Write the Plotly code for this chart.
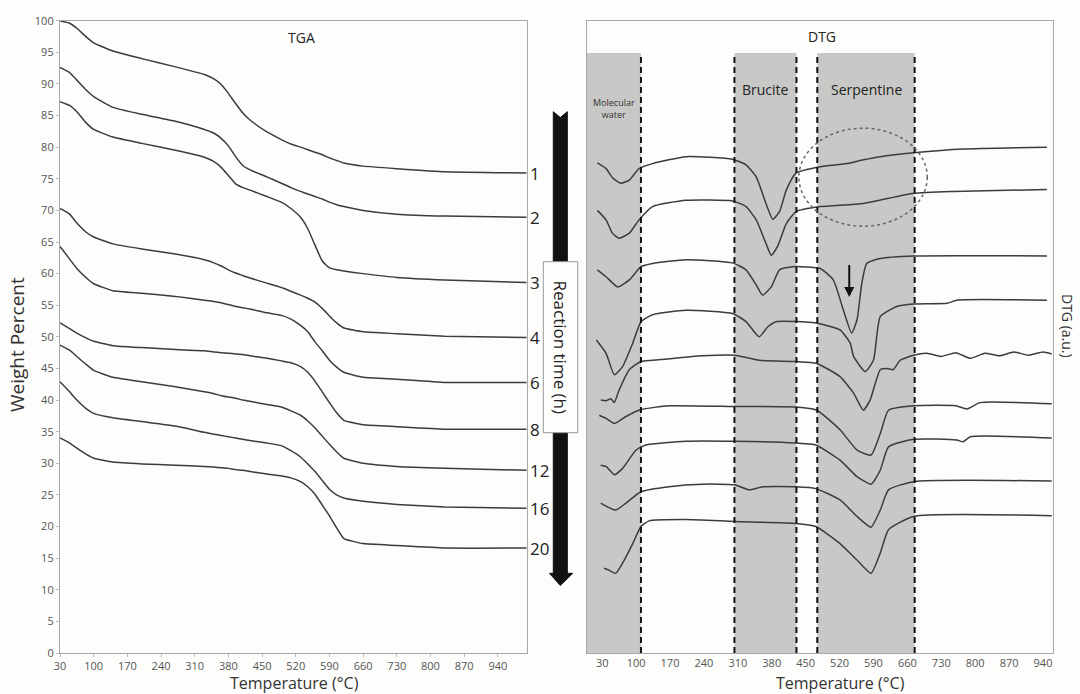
import plotly.graph_objects as go

# ---------------- TGA data (weight %, shared temperature grid) ----------------
TGA_T = [30, 50, 65, 85, 100, 140, 200, 270, 330, 350, 365, 380, 395, 410, 425, 460, 490, 510, 530, 545,
         560, 575, 590, 605, 620, 660, 730, 830, 1000]
TGA_1 = [100.0, 99.6, 98.8, 97.4, 96.5, 95.2, 94.0, 92.7, 91.5, 90.8, 89.9, 88.5, 86.9, 85.4, 84.3, 82.4, 81.2, 80.5, 80.0, 79.6,
         79.2, 78.8, 78.3, 77.9, 77.5, 77.0, 76.6, 76.1, 75.9]
TGA_2 = [92.6, 91.8, 90.6, 89.0, 88.0, 86.3, 85.2, 84.1, 82.8, 82.2, 81.4, 80.2, 78.5, 77.1, 76.4, 75.3, 74.3, 73.6, 73.0, 72.6,
         72.2, 71.8, 71.3, 70.9, 70.6, 70.0, 69.4, 69.1, 68.9]
TGA_3 = [87.2, 86.6, 85.6, 83.8, 82.8, 81.6, 80.6, 79.5, 78.4, 77.7, 76.8, 75.5, 74.2, 73.6, 73.2, 72.2, 71.3, 70.3, 68.9, 67.1,
         64.5, 62.0, 60.9, 60.6, 60.4, 60.0, 59.4, 59.0, 58.6]
TGA_4 = [70.3, 69.4, 68.0, 66.5, 65.8, 64.7, 63.9, 63.1, 62.2, 61.7, 61.2, 60.6, 60.1, 59.7, 59.3, 58.5, 57.8, 57.2, 56.6, 56.1,
         55.5, 54.5, 53.3, 52.2, 51.4, 50.8, 50.5, 50.1, 49.9]
TGA_6 = [64.3, 62.3, 60.8, 59.3, 58.4, 57.3, 56.9, 56.4, 55.8, 55.6, 55.4, 55.1, 54.8, 54.6, 54.4, 53.8, 53.4, 52.8, 51.8, 50.8,
         49.2, 47.8, 46.3, 45.2, 44.4, 43.6, 43.3, 42.8, 42.8]
TGA_8 = [52.2, 51.3, 50.6, 49.8, 49.3, 48.6, 48.3, 48.0, 47.8, 47.6, 47.5, 47.4, 47.3, 47.2, 47.0, 46.6, 46.2, 45.9, 45.3, 44.4,
         43.0, 41.3, 39.6, 38.0, 36.8, 36.1, 35.8, 35.4, 35.4]
TGA_12 = [48.7, 47.9, 46.9, 45.6, 44.7, 43.6, 42.9, 42.1, 41.3, 41.0, 40.7, 40.5, 40.3, 40.0, 39.8, 39.3, 38.9, 38.3, 37.6, 36.7,
          35.6, 34.3, 33.0, 31.8, 30.8, 30.0, 29.5, 29.2, 28.9]
TGA_16 = [42.9, 41.3, 40.0, 38.6, 37.9, 37.2, 36.6, 35.9, 34.9, 34.6, 34.4, 34.2, 34.0, 33.8, 33.6, 33.2, 32.8, 32.0, 31.0, 29.9,
          28.7, 27.3, 25.9, 25.0, 24.5, 24.0, 23.5, 23.1, 22.9]
TGA_20 = [34.0, 33.2, 32.4, 31.4, 30.8, 30.2, 29.9, 29.7, 29.5, 29.4, 29.3, 29.2, 29.0, 28.9, 28.7, 28.3, 28.0, 27.7, 27.1, 26.3,
          25.1, 23.4, 21.7, 19.8, 18.1, 17.3, 17.0, 16.6, 16.6]
TGA_SERIES = [TGA_1, TGA_2, TGA_3, TGA_4, TGA_6, TGA_8, TGA_12, TGA_16, TGA_20]
TIME_LABELS = ["1", "2", "3", "4", "6", "8", "12", "16", "20"]

# ---------------- DTG data (arbitrary units, offset curves) ----------------
DTG1_T = [20, 38, 52, 69, 86, 106, 134, 203, 299, 327, 348, 368, 382, 396, 410, 430, 480, 535, 569, 604, 673, 776, 948]
DTG1_V = [77.5, 76.6, 75.1, 74.3, 74.8, 76.6, 77.4, 78.5, 78.1, 77.2, 75.3, 71.1, 68.6, 69.8, 73.2, 75.9, 76.9, 77.4, 78.0, 78.5, 79.1, 79.7, 80.0]
DTG2_T = [20, 38, 51, 65, 86, 106, 134, 203, 299, 327, 348, 368, 379, 392, 410, 430, 480, 569, 673, 755, 948]
DTG2_V = [70.0, 68.5, 66.4, 65.6, 66.4, 68.5, 70.6, 71.6, 71.5, 70.6, 68.5, 64.8, 62.9, 64.3, 67.9, 69.8, 70.6, 71.1, 72.7, 73.0, 73.3]
DTG3_T = [20, 38, 62, 86, 110, 134, 203, 299, 327, 348, 361, 379, 396, 423, 480, 507, 528, 545, 556, 566, 576, 604, 673, 948]
DTG3_V = [60.6, 59.5, 57.9, 59.0, 61.1, 61.6, 62.2, 61.7, 60.6, 58.2, 56.6, 57.9, 60.6, 61.1, 60.8, 59.0, 54.2, 50.6, 52.7, 58.5, 61.6, 62.4, 62.8, 62.8]
DTG4_T = [18, 38, 55, 72, 93, 110, 134, 203, 299, 327, 354, 372, 389, 471, 521, 542, 549, 573, 590, 604, 638, 673, 742, 762, 948]
DTG4_V = [49.5, 47.4, 44.0, 45.3, 49.0, 52.4, 53.5, 54.2, 53.7, 52.4, 50.0, 51.6, 52.4, 52.2, 51.1, 49.0, 46.9, 44.5, 46.3, 53.2, 54.8, 55.2, 55.3, 55.8, 55.8]
DTG6_T = [27, 38, 48, 55, 65, 86, 110, 150, 237, 303, 354, 430, 473, 521, 549, 569, 583, 604, 618, 631, 645, 673, 700, 730, 760, 790, 820, 850, 880, 910, 940, 958]
DTG6_V = [40.0, 39.9, 40.2, 39.6, 41.6, 44.8, 46.1, 46.4, 47.0, 47.1, 46.3, 46.1, 45.8, 43.7, 41.1, 38.4, 40.0, 44.8, 45.0, 44.8, 46.3, 47.1, 47.4, 46.9, 47.5, 46.6, 47.4, 47.0, 47.6, 47.1, 47.6, 47.3]
DTG8_T = [24, 38, 55, 79, 110, 168, 303, 430, 473, 521, 556, 585, 604, 621, 673, 760, 783, 810, 958]
DTG8_V = [37.6, 37.1, 36.3, 37.4, 38.5, 39.1, 39.0, 38.9, 38.4, 35.3, 32.1, 31.3, 34.7, 38.4, 39.1, 39.1, 38.6, 39.6, 39.4]
DTG12_T = [27, 38, 55, 72, 100, 120, 203, 303, 430, 471, 521, 556, 585, 604, 621, 673, 762, 775, 790, 958]
DTG12_V = [29.7, 29.5, 28.2, 29.2, 32.1, 32.9, 33.5, 33.5, 33.2, 32.9, 30.5, 27.9, 26.7, 28.9, 32.6, 33.8, 33.7, 33.4, 34.2, 34.0]
DTG16_T = [27, 41, 58, 79, 110, 168, 237, 303, 334, 361, 430, 471, 521, 556, 585, 604, 621, 673, 958]
DTG16_V = [23.7, 23.1, 22.6, 23.7, 25.5, 26.3, 26.7, 26.6, 25.8, 26.3, 26.3, 26.0, 24.2, 21.6, 19.9, 22.6, 25.8, 27.1, 27.2]
DTG20_T = [34, 44, 58, 72, 93, 110, 127, 203, 303, 430, 471, 521, 556, 585, 604, 621, 673, 958]
DTG20_V = [13.4, 13.1, 12.6, 14.2, 17.3, 20.0, 20.9, 21.1, 20.8, 20.5, 20.0, 17.3, 14.7, 12.6, 15.8, 19.5, 21.6, 21.7]
DTG_SERIES = [(DTG1_T, DTG1_V), (DTG2_T, DTG2_V), (DTG3_T, DTG3_V), (DTG4_T, DTG4_V), (DTG6_T, DTG6_V),
              (DTG8_T, DTG8_V), (DTG12_T, DTG12_V), (DTG16_T, DTG16_V), (DTG20_T, DTG20_V)]

# Temperature bands (°C) of the shaded regions
BAND_WATER = [-2, 110]
BAND_BRUCITE = [303, 431]
BAND_SERPENTINE = [474, 675]
BAND_LINES = [110, 303, 431, 474, 675]

TICKS = [30, 100, 170, 240, 310, 380, 450, 520, 590, 660, 730, 800, 870, 940]
YTICKS = list(range(0, 101, 5))

W, H = 1080, 694
def px(x):
    return x / W
def py(y):
    return 1 - y / H

LINE = dict(color="#3c3c3c", width=1.5)
FONT = "Open Sans, Noto Sans, sans-serif"
BG = "#fdfdfb"

fig = go.Figure()
for i, s in enumerate(TGA_SERIES):
    fig.add_trace(go.Scatter(x=TGA_T, y=s, mode="lines", xaxis="x", yaxis="y",
                             line=dict(shape="spline", smoothing=0.4, **LINE),
                             name="TGA " + TIME_LABELS[i], showlegend=False, hoverinfo="skip"))
for i, (t, v) in enumerate(DTG_SERIES):
    fig.add_trace(go.Scatter(x=t, y=v, mode="lines", xaxis="x2", yaxis="y2",
                             line=dict(shape="spline", smoothing=0.5, **LINE),
                             name="DTG " + TIME_LABELS[i], showlegend=False, hoverinfo="skip"))

axis_common = dict(showgrid=False, zeroline=False, showline=True, mirror=True, automargin=False,
                   linecolor="#a8a8a8", linewidth=1.2,
                   tickfont=dict(family=FONT, size=11, color="#555"))
fig.update_layout(
    template="none",
    width=W, height=H, margin=dict(l=0, r=0, t=0, b=0, pad=0),
    paper_bgcolor=BG, plot_bgcolor=BG,
    font=dict(family=FONT, color="#333"),
    xaxis=dict(domain=[px(60), px(526.7)], range=[30, 1000], tickvals=TICKS,
               ticks="outside", ticklen=3, tickcolor="#bbb", anchor="y", **axis_common),
    yaxis=dict(domain=[py(653), py(20.7)], range=[0, 100], tickvals=YTICKS,
               ticks="outside", ticklen=3, tickcolor="#bbb", anchor="x", **axis_common),
    xaxis2=dict(domain=[px(586.7), px(1052.7)], range=[-2, 960], tickvals=TICKS,
                ticks="", anchor="y2", **axis_common),
    yaxis2=dict(domain=[py(653), py(20.7)], range=[0, 100], showticklabels=False,
                ticks="", anchor="x2", **axis_common),
)

shapes = []
for b in (BAND_WATER, BAND_BRUCITE, BAND_SERPENTINE):
    shapes.append(dict(type="rect", xref="x2", yref="y2", x0=b[0], x1=b[1], y0=0, y1=94.9,
                       fillcolor="#c8c8c6", line=dict(width=0), layer="below"))
for xv in BAND_LINES:
    shapes.append(dict(type="line", xref="x2", yref="y2", x0=xv, x1=xv, y0=0, y1=94.9,
                       line=dict(color="#111", width=2, dash="6px,4px"), layer="above"))
shapes.append(dict(type="circle", xref="x2", yref="y2", x0=436, x1=701, y0=67.5, y1=83.0,
                   line=dict(color="#666", width=1.5, dash="dot")))
pts = [(553.3, 111.7), (560.3, 117.5), (567.3, 111.7), (567.3, 573.3), (572.7, 573.3),
       (560.3, 585.5), (549.5, 573.3), (553.3, 573.3)]
path = "M " + " L ".join(f"{px(a):.5f},{py(b):.5f}" for a, b in pts) + " Z"
shapes.append(dict(type="path", xref="paper", yref="paper", path=path,
                   fillcolor="#111", line=dict(color="#111", width=1)))
shapes.append(dict(type="rect", xref="paper", yref="paper", x0=px(543.3), x1=px(577.7),
                   y0=py(432.7), y1=py(261.7), fillcolor=BG, line=dict(color="#999", width=1)))
fig.update_layout(shapes=shapes)

ann = []
def text(x, y, s, size, color="#222", angle=0, xanchor="center", xref="paper", yref="paper"):
    ann.append(dict(x=x, y=y, xref=xref, yref=yref, text=s, showarrow=False, textangle=angle,
                    xanchor=xanchor, yanchor="middle",
                    font=dict(family=FONT, size=size, color=color)))

text(px(301), py(37), "TGA", 14)
text(px(822), py(36), "DTG", 14)
text(px(765), py(89), "Brucite", 14)
text(px(866), py(89), "Serpentine", 14)
text(px(614), py(108), "Molecular<br>water", 9, color="#333")
text(px(17), py(345), "Weight Percent", 19, color="#333", angle=-90)
text(px(294), py(683), "Temperature (°C)", 16, color="#333")
text(px(840), py(683), "Temperature (°C)", 16, color="#333")
text(px(1068), py(326), "DTG (a.u.)", 14, color="#333", angle=90)
text(px(560.5), py(347), "Reaction time (h)", 17, color="#222", angle=90)
for s, lab in zip(TGA_SERIES, TIME_LABELS):
    text(px(528), s[-1], lab, 17, xanchor="left", yref="y")
ann.append(dict(x=540, y=56.3, ax=540, ay=61.6, xref="x2", yref="y2", axref="x2", ayref="y2",
                showarrow=True, arrowhead=2, arrowsize=1, arrowwidth=2, arrowcolor="#111", text=""))
fig.update_layout(annotations=ann)

fig.write_html("out.html", config={"displayModeBar": False},
               post_script="document.body.style.margin='0';document.body.style.overflow='hidden';")
